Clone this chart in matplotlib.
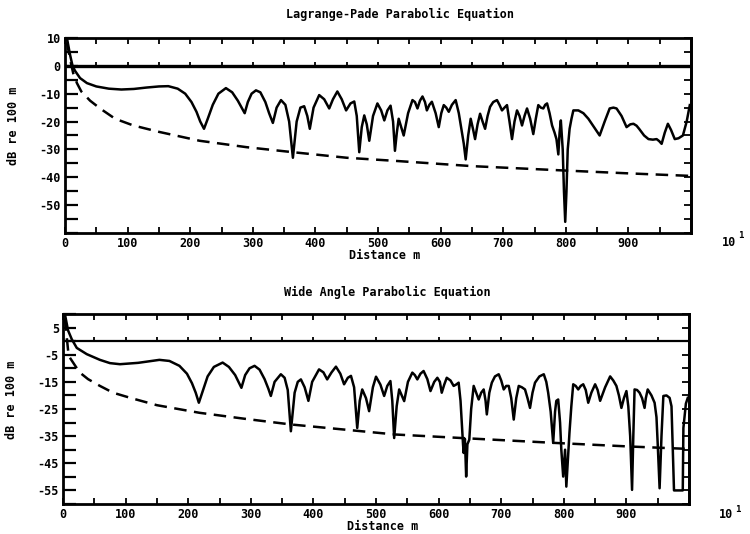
import numpy as np
import matplotlib
matplotlib.use("Agg")
import matplotlib.pyplot as plt

# ---------------- data ----------------
# distance in units of 10 m
lp_x = [3, 8, 12, 16, 24, 35, 50, 70, 90, 110, 130, 150, 165, 180, 192, 202, 210, 216, 222, 228, 236, 245,
        257, 267, 276, 287, 292, 298, 305, 312, 320, 326, 332, 338, 345, 352, 358, 364, 370, 376, 382, 387,
        391, 397, 406, 414, 422, 428, 435, 442, 449, 456, 462, 466, 470, 474, 478, 482, 486, 492, 499, 505,
        510, 515, 520, 524, 527, 530, 533, 537, 541, 548, 555, 559, 563, 567, 571, 575, 578, 582, 586, 592,
        597, 601, 605, 609, 613, 618, 624, 629, 634, 637, 640, 644, 648, 652, 655, 659, 663, 667, 671, 675,
        679, 684, 690, 694, 698, 702, 706, 710, 714, 718, 722, 726, 730, 734, 738, 743, 748, 752, 756, 760,
        764, 767, 770, 774, 778, 782, 785, 788, 790, 792, 795, 797, 799, 801, 803, 806, 809, 812, 816, 820,
        828, 836, 845, 854, 862, 870, 876, 881, 889, 897, 903, 908, 913, 917, 925, 932, 939, 945, 949, 953,
        958, 963, 968, 974, 980, 987, 993, 998]
lp_y = [10, 4, 0, -1.8, -4.4, -6.2, -7.4, -8.2, -8.5, -8.3, -7.8, -7.4, -7.3, -8.2, -10, -13, -16.5, -20, -22.6, -19, -14, -10,
        -8, -9.5, -12.5, -17, -13, -10, -8.8, -9.5, -13, -17, -20.5, -15, -12.3, -14, -20, -33, -20, -15, -14.5, -18,
        -22.6, -15, -10.5, -12, -15.3, -12, -9.2, -12, -16, -13.5, -12.8, -18, -31, -22, -17.8, -21, -26.9, -18, -13.5, -16,
        -19.6, -16, -14.3, -20, -30.5, -24, -19, -22, -25, -17, -12.3, -13, -15.3, -12.5, -11, -13, -16, -14, -12.9, -17,
        -22, -17, -14.1, -15, -16.5, -14, -12.3, -17, -23.8, -28, -33.6, -25, -19, -23, -26.3, -21, -17.2, -20, -22.6, -18,
        -14.7, -13, -12.3, -14, -16, -15, -14.1, -20, -26.3, -20, -16, -18, -21.4, -18, -15.3, -19, -24.5, -19, -14.1, -15,
        -15.3, -14, -13.5, -17, -21.4, -24, -26.3, -31.8, -24, -19.6, -30, -45, -56, -45, -30, -22.6, -19, -16, -16, -16,
        -17, -19, -22, -25, -20, -15.3, -15, -15.3, -18, -22, -21, -20.8, -21.5, -22.6, -25, -26.3, -26.5, -26.3, -27, -28,
        -24, -20.8, -23, -26.3, -26, -25, -20, -14.1]

lp_dash_x = [3, 8, 13, 19, 26, 40, 56, 80, 109, 150, 215, 290, 364, 450, 533, 650, 800, 900, 998]
lp_dash_y = [8.4, 2.5, -2.6, -6.2, -9.2, -12.5, -15.3, -19, -21.4, -23.7, -26.9, -29.2, -31, -33, -34.2, -36, -37.6, -38.6, -39.5]

wa_x = [3, 8, 14, 22, 38, 59, 75, 91, 120, 154, 170, 186, 198, 206, 212, 217, 223, 231, 241, 255, 265, 275,
        285, 291, 298, 306, 314, 322, 328, 332, 338, 348, 354, 359, 364, 370, 375, 380, 386, 392, 398, 409, 416,
        422, 429, 436, 443, 449, 455, 460, 465, 470, 474, 478, 484, 489, 495, 500, 507, 513, 518, 523, 526, 529,
        533, 537, 541, 545, 551, 558, 562, 566, 571, 576, 582, 587, 593, 598, 602, 605, 609, 613, 619, 624, 628,
        632, 635, 637, 639, 640, 642, 644, 646, 649, 652, 656, 660, 664, 668, 672, 675, 677, 681, 685, 690, 696,
        700, 704, 708, 712, 716, 720, 724, 728, 733, 738, 742, 746, 750, 754, 761, 768, 772, 775, 779, 783, 786,
        788, 791, 794, 796, 799, 802, 804, 807, 809, 812, 815, 819, 823, 827, 831, 835, 839, 844, 850, 854, 858,
        866, 874, 879, 884, 888, 892, 896, 900, 903, 906, 909, 911, 913, 917, 921, 925, 929, 931, 934, 940, 945,
        948, 950, 953, 956, 959, 964, 969, 972, 976, 990, 991, 995, 998]
wa_y = [10, 4, 0.7, -2.5, -4.8, -6.9, -8.1, -8.5, -8, -6.9, -7.3, -9.1, -12, -15.5, -19, -22.7, -18.5, -13, -9.5, -7.9, -9.5, -12.5,
        -17.2, -12.5, -10, -9.1, -10.5, -14, -17.5, -20.2, -15, -12.2, -13.5, -18, -33.2, -19, -15, -14.1, -17, -22, -15, -10.4, -11.5,
        -14.1, -11.5, -9.4, -12, -15.9, -13.5, -12.8, -17, -32, -22, -17.8, -21, -25.8, -17, -13.1, -16, -20.2, -16.5, -14.7, -22, -35.7,
        -24, -17.8, -20, -22.1, -15, -11.6, -12.5, -14.1, -12, -11, -14, -18.4, -15, -13.5, -15, -19, -16, -13.5, -14.5, -16.5, -16,
        -15.3, -22, -30, -38, -41.2, -36, -49.9, -38, -36.3, -25, -16.5, -19, -21.5, -19, -17.8, -22, -27, -19, -15.3, -13, -12.2,
        -14.5, -17.8, -16.5, -16.5, -21, -28.9, -21, -16.5, -17, -17.8, -21, -24.6, -19, -15.3, -13, -12.2, -15, -19, -26, -37.5, -26,
        -22, -21.5, -30, -40, -49.9, -40, -53.6, -42, -33.8, -24, -15.9, -16.5, -17.8, -16.5, -15.9, -18, -22.7, -19, -15.9, -18, -22,
        -17, -13, -14.5, -16.5, -20, -24.6, -21, -18.4, -24, -35, -54.8, -35, -17.8, -18, -19, -21, -24.6, -21, -17.8, -20, -22.7,
        -28, -38, -54.2, -35, -20.2, -20, -20.9, -24, -55, -55, -32, -23, -20.9]

wa_dash_x = [3, 9, 15, 21, 27, 40, 59, 80, 109, 150, 218, 290, 364, 450, 531, 637, 786, 903, 998]
wa_dash_y = [8.4, -5.4, -7.5, -9.6, -11.6, -14, -16.5, -19, -21, -23.6, -26.4, -28.6, -30.7, -32.6, -34.4, -35.7, -37.5, -38.8, -39.7]

x_ticks = np.arange(0, 1000, 50)
x_labels = [str(v) if v % 100 == 0 else "" for v in x_ticks]
top_yticks = np.arange(-60, 10.1, 5)
top_ylabels = [str(int(v)) if (v % 10 == 0 and -50 <= v <= 10) else "" for v in top_yticks]
bot_yticks = np.arange(-60, 10.1, 5)
bot_ylabels = [str(int(v)) if (v % 10 == 5 and -55 <= v <= 5) else "" for v in bot_yticks]

# ---------------- style ----------------
plt.rcParams["font.family"] = "DejaVu Sans Mono"
plt.rcParams["font.weight"] = "bold"
FS = 8.5

fig = plt.figure(figsize=(7.5, 5.34), dpi=100)
ax1 = fig.add_axes([0.0867, 0.5637, 0.8347, 0.3652])
ax2 = fig.add_axes([0.084, 0.0562, 0.8347, 0.3558])


def style(ax, yticks, ylabels, ylim, zero_lw, xlab_y):
    ax.set_xlim(0, 1000)
    ax.set_ylim(*ylim)
    ax.set_xticks(x_ticks)
    ax.set_xticklabels(x_labels, fontsize=FS, fontweight="bold")
    ax.set_yticks(yticks)
    ax.set_yticklabels(ylabels, fontsize=FS, fontweight="bold")
    ax.tick_params(axis="x", direction="in", length=4, width=1.3, top=True, pad=3)
    ax.tick_params(axis="y", direction="in", length=9, width=1.6, right=False, pad=3)
    for s in ax.spines.values():
        s.set_linewidth(2.0)
        s.set_color("black")
    # short ticks on right spine
    axr = ax.secondary_yaxis("right")
    axr.set_yticks(yticks)
    axr.set_yticklabels([])
    axr.tick_params(direction="in", length=5, width=1.3)
    axr.spines["right"].set_linewidth(2.0)
    # zero reference line with upward ticks
    ax.axhline(0, color="black", lw=zero_lw, zorder=3)
    ax.vlines(x_ticks[1:], 0, 1.4, color="black", lw=1.3, zorder=3)
    ax.set_xlabel("Distance m", fontsize=FS, fontweight="bold")
    ax.xaxis.set_label_coords(0.51, xlab_y)
    ax.set_ylabel("dB re 100 m", fontsize=FS, fontweight="bold")


style(ax1, top_yticks, top_ylabels, (-60, 10), 2.4, -0.083)
ax1.yaxis.set_label_coords(-0.072, 0.55)
ax1.plot(lp_x, lp_y, color="black", lw=1.8, solid_joinstyle="round")
ax1.plot(lp_dash_x, lp_dash_y, color="black", lw=1.8, dashes=(5, 3))

style(ax2, bot_yticks, bot_ylabels, (-60, 10), 1.6, -0.085)
ax2.yaxis.set_label_coords(-0.072, 0.55)
ax2.plot(wa_x, wa_y, color="black", lw=1.8, solid_joinstyle="round")
ax2.plot(wa_dash_x, wa_dash_y, color="black", lw=1.8, dashes=(5, 3))

fig.text(0.533, 0.972, "Lagrange-Pade Parabolic Equation", ha="center", va="center", fontsize=FS, fontweight="bold")
fig.text(0.517, 0.453, "Wide Angle Parabolic Equation", ha="center", va="center", fontsize=FS, fontweight="bold")

# x10^1 multiplier
for ytxt, ysup, x0 in ((242, 236, 722), (515, 509, 719)):
    fig.text(x0 / 750, 1 - ytxt / 534, "10", ha="left", va="center", fontsize=FS, fontweight="bold")
    fig.text((x0 + 16) / 750, 1 - ysup / 534, "1", ha="left", va="center", fontsize=6.5, fontweight="bold")

fig.savefig("out.png", dpi=100)
